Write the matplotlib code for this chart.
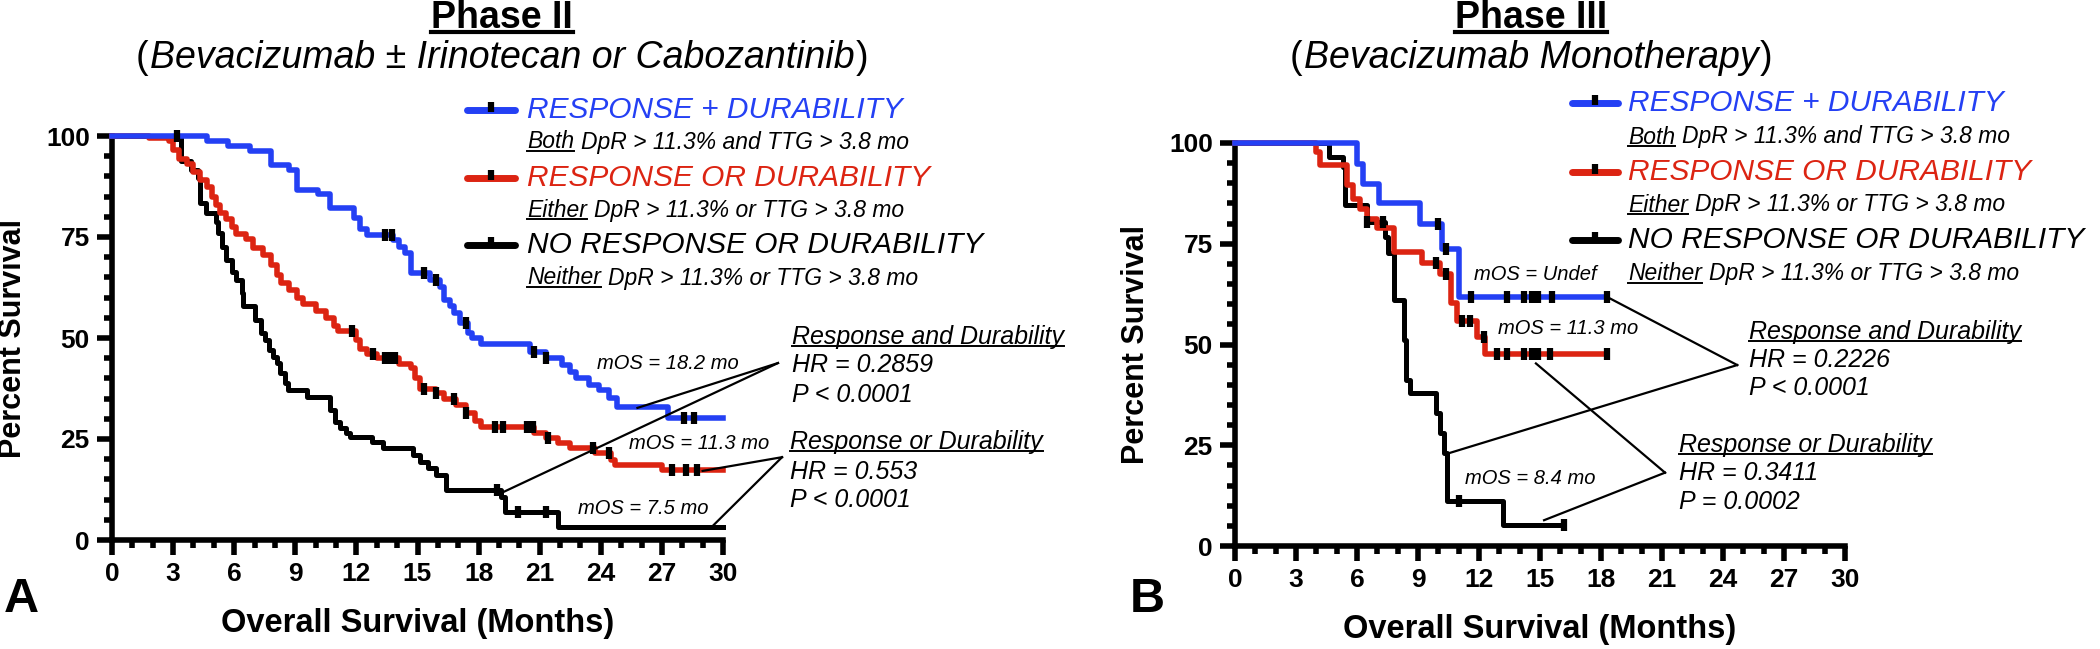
import matplotlib
matplotlib.use("Agg")
import matplotlib.pyplot as plt
from matplotlib.lines import Line2D

plt.rcParams["font.family"] = ["Liberation Sans", "DejaVu Sans"]

W, H = 2100, 649
BLUE = "#2440f4"
RED = "#dc2412"

# ---------------- Phase II (panel A) ----------------
p2_blue_t = [0, 4.65, 5.7, 6.8, 7.8, 8.7, 9.1, 10.1, 10.7, 11.9, 12.2, 12.5, 13.8, 14.1, 14.4,
             14.7, 15.6, 16.1, 16.3, 16.6, 16.8, 17.1, 17.5, 17.7, 18.1, 20.5, 21.3, 22.1, 22.5,
             22.8, 23.4, 23.9, 24.4, 24.8, 27.3]
p2_blue_s = [100, 98.8, 97.6, 96.4, 92.8, 91.6, 86.6, 85.6, 82.1, 79.6, 77.1, 75.5, 74.3, 72.6, 71.0,
             66.0, 64.4, 62.7, 59.4, 57.8, 56.1, 53.6, 51.2, 49.9, 48.5, 46.6, 45.0, 43.3, 41.7,
             40.1, 38.4, 37.1, 35.1, 33.0, 30.2]
p2_blue_end = 30
p2_blue_cens = [13.4, 13.75, 15.3, 15.9, 17.4, 20.7, 21.3, 28.1, 28.6]

p2_red_t = [0, 1.8, 2.8, 3.0, 3.3, 3.7, 4.0, 4.3, 4.65, 4.9, 5.1, 5.3, 5.6, 5.9, 6.1, 6.6, 6.9, 7.4,
            7.8, 8.1, 8.3, 8.7, 9.1, 9.4, 10.0, 10.5, 10.9, 11.1, 12.0, 12.2, 12.5, 13.0, 14.1, 14.7,
            14.9, 15.1, 15.9, 16.3, 16.9, 17.4, 17.8, 18.1, 20.7, 21.3, 21.9, 22.5, 23.7, 24.5, 24.7, 27.0]
p2_red_s = [100, 99.4, 98.7, 96.5, 94.4, 93.0, 91.0, 89.0, 87.5, 85.0, 83.0, 81.0, 79.5, 77.5, 75.7,
            74.5, 72.2, 70.5, 68.0, 65.5, 63.5, 62.0, 60.0, 58.4, 56.6, 55.0, 53.0, 51.8, 49.5, 47.3,
            46.0, 45.0, 43.5, 42.5, 40.0, 37.5, 36.5, 35.0, 33.5, 31.5, 29.5, 28.0, 26.5, 25.2, 24.0,
            22.8, 21.5, 19.8, 18.6, 17.3]
p2_red_end = 30
p2_red_cens = [11.8, 12.8, 13.4, 13.65, 13.9, 15.3, 15.9, 16.8, 17.4, 18.8, 19.2, 20.4, 20.65, 21.4,
               23.6, 24.4, 27.5, 28.2, 28.7]

p2_black_t = [0, 3.4, 3.9, 4.2, 4.3, 4.6, 5.1, 5.2, 5.4, 5.6, 5.9, 6.1, 6.4, 6.45, 7.0, 7.3, 7.5,
              7.7, 7.9, 8.1, 8.25, 8.5, 8.65, 9.55, 10.7, 10.95, 11.2, 11.5, 11.7, 12.75, 13.3,
              14.8, 15.1, 15.5, 15.9, 16.4, 19.1, 19.3, 21.9]
p2_black_s = [100, 93.8, 91.7, 89.7, 83.3, 80.9, 78.8, 75.9, 72.6, 69.3, 66.4, 64.4, 61.1, 57.8,
              54.5, 51.2, 49.5, 47.0, 45.4, 43.7, 41.3, 38.8, 37.1, 35.5, 32.2, 29.3, 27.6, 26.4,
              25.6, 24.3, 22.7, 21.0, 19.3, 17.7, 16.0, 12.4, 10.7, 7.0, 3.3]
p2_black_end = 30
p2_black_cens = [3.2, 18.9, 19.95, 21.3]

# ---------------- Phase III (panel B) ----------------
p3_blue_t = [0, 6.0, 6.3, 7.1, 9.1, 10.2, 11.0]
p3_blue_s = [100, 94.9, 89.9, 85.0, 79.8, 73.8, 61.8]
p3_blue_end = 18.3
p3_blue_cens = [10.0, 10.4, 11.6, 13.4, 14.2, 14.6, 14.9, 15.6, 18.3]

p3_red_t = [0, 4.0, 4.2, 5.5, 5.8, 6.15, 6.5, 7.0, 7.8, 9.2, 10.1, 10.6, 10.9, 11.9, 12.3]
p3_red_s = [100, 97.8, 94.5, 89.5, 86.2, 83.7, 81.2, 78.8, 73.0, 70.1, 67.6, 60.2, 55.8, 51.9, 47.6]
p3_red_end = 18.3
p3_red_cens = [9.9, 10.4, 11.15, 11.55, 12.25, 12.9, 13.4, 14.2, 14.6, 14.9, 15.5, 18.3]

p3_black_t = [0, 4.6, 5.3, 5.4, 6.5, 7.4, 7.5, 7.8, 8.3, 8.4, 8.6, 9.9, 10.1, 10.3, 10.45, 13.2]
p3_black_s = [100, 96.5, 94.0, 84.5, 80.4, 76.7, 72.6, 61.0, 51.0, 41.2, 37.9, 33.0, 28.0, 23.0, 11.1, 5.2]
p3_black_end = 16.2
p3_black_cens = [6.5, 7.3, 11.0, 16.2]

# texts
leg_labels = ["RESPONSE + DURABILITY", "RESPONSE OR DURABILITY", "NO RESPONSE OR DURABILITY"]
leg_under = ["Both", "Either", "Neither"]
leg_rest = ["DpR > 11.3% and TTG > 3.8 mo", "DpR > 11.3% or TTG > 3.8 mo", "DpR > 11.3% or TTG > 3.8 mo"]
hr_heads = ["Response and Durability", "Response or Durability"]
p2_hr = ["HR = 0.2859", "HR = 0.553"]
p2_p = ["P < 0.0001", "P < 0.0001"]
p3_hr = ["HR = 0.2226", "HR = 0.3411"]
p3_p = ["P < 0.0001", "P = 0.0002"]
p2_mos = ["mOS = 18.2 mo", "mOS = 11.3 mo", "mOS = 7.5 mo"]
p3_mos = ["mOS = Undef", "mOS = 11.3 mo", "mOS = 8.4 mo"]
xticks = list(range(0, 31, 3))
yticks = [0, 25, 50, 75, 100]


def fxy(x, y):
    # pixel position -> figure fraction
    return x / W, 1 - y / H


def step_value(ts, ss, t):
    v = ss[0]
    for ti, si in zip(ts, ss):
        if ti <= t:
            v = si
    return v


def km(ax, ts, ss, t_end, cens, color, lw):
    ax.step(list(ts) + [t_end], list(ss) + [ss[-1]], where="post", color=color, lw=lw,
            clip_on=False, zorder=3)
    cy = [step_value(ts, ss, c) for c in cens]
    ax.plot(cens, cy, ls="none", marker="|", ms=8, mew=4.5, color="black", clip_on=False, zorder=4)


def style(ax):
    ax.patch.set_visible(False)
    ax.set_xlim(0, 30)
    ax.set_ylim(0, 100)
    ax.spines[["top", "right"]].set_visible(False)
    ax.spines[["left", "bottom"]].set_linewidth(4)
    ax.set_xticks(xticks, [str(v) for v in xticks], fontweight="bold", fontsize=19)
    ax.set_yticks(yticks, [str(v) for v in yticks], fontweight="bold", fontsize=19)
    ax.set_xticks(range(0, 31), minor=True)
    ax.set_yticks(range(0, 101, 5), minor=True)
    ax.tick_params(which="major", length=11, width=4, pad=5)
    ax.tick_params(which="minor", length=6, width=4)
    ax.set_xlabel("Overall Survival (Months)", fontsize=23.5, fontweight="bold", va="center")
    ax.xaxis.set_label_coords(0.5, -0.207)
    ax.set_ylabel("Percent Survival", fontsize=22, fontweight="bold", va="center")
    ax.yaxis.set_label_coords(-0.162, 0.5)


underlines = []


def legend(fig, x_line, x_text, rows, subrows):
    colors = [BLUE, RED, "black"]
    for i in range(3):
        xa, ya = fxy(x_line[0], rows[i])
        xb, _ = fxy(x_line[1], rows[i])
        fig.add_artist(Line2D([xa, xb], [ya, ya], color=colors[i], lw=5, solid_capstyle="round"))
        fig.add_artist(Line2D([(xa + xb) / 2], [ya + 3 / H], marker="|", ms=7, mew=4.5, color="black"))
        tx, ty = fxy(x_text, rows[i])
        fig.text(tx, ty, leg_labels[i], color=colors[i], fontsize=21.5, style="italic", va="center")
        sx, sy = fxy(x_text, subrows[i])
        t1 = fig.text(sx, sy, leg_under[i], fontsize=16.5, style="italic", va="center")
        underlines.append((t1, 1.4))
        fig.axes[0].annotate(leg_rest[i], xy=(1, 0.5), xycoords=t1, xytext=(5, 0),
                             textcoords="offset points", fontsize=16.5, style="italic",
                             va="center", annotation_clip=False)


def titles(fig, xc, title, sub):
    x, y = fxy(xc, 18)
    t = fig.text(x, y, title, fontsize=27, fontweight="bold", ha="center", va="center")
    underlines.append((t, 3))
    x, y = fxy(xc, 58)
    m = fig.text(x, y, sub, fontsize=27, style="italic", ha="center", va="center")
    fig.axes[0].annotate("(", xy=(0, 0.5), xycoords=m, xytext=(-1, 0), textcoords="offset points",
                         fontsize=27, ha="right", va="center", annotation_clip=False)
    fig.axes[0].annotate(")", xy=(1, 0.5), xycoords=m, xytext=(1, 0), textcoords="offset points",
                         fontsize=27, ha="left", va="center", annotation_clip=False)


def hr_block(ax, x, ys, head, hr, p):
    t = ax.text(x, ys[0], head, fontsize=18, style="italic", va="center", clip_on=False)
    underlines.append((t, 1.4))
    ax.text(x, ys[1], hr, fontsize=18, style="italic", va="center", clip_on=False)
    ax.text(x, ys[2], p, fontsize=18, style="italic", va="center", clip_on=False)


def connector(ax, vertex, ends):
    for e in ends:
        ax.plot([vertex[0], e[0]], [vertex[1], e[1]], color="black", lw=1.6, clip_on=False, zorder=5)


fig = plt.figure(figsize=(W / 100, H / 100), dpi=100)
ax1 = fig.add_axes([112 / W, 1 - 540 / H, 611 / W, 404 / H])
ax2 = fig.add_axes([1235 / W, 1 - 546 / H, 610 / W, 403 / H])

# panel A
style(ax1)
km(ax1, p2_black_t, p2_black_s, p2_black_end, p2_black_cens, "black", 3.6)
km(ax1, p2_red_t, p2_red_s, p2_red_end, p2_red_cens, RED, 4)
km(ax1, p2_blue_t, p2_blue_s, p2_blue_end, p2_blue_cens, BLUE, 4)
for txt, (x, y) in zip(p2_mos, [(23.8, 43.8), (25.4, 24.0), (22.9, 7.9)]):
    ax1.text(x, y, txt, fontsize=14.5, style="italic", va="center", clip_on=False)
hr_block(ax1, 33.4, [50.3, 43.3, 35.9], hr_heads[0], p2_hr[0], p2_p[0])
hr_block(ax1, 33.3, [24.3, 16.9, 9.9], hr_heads[1], p2_hr[1], p2_p[1])
connector(ax1, (32.7, 43.8), [(25.8, 32.7), (19.1, 11.6)])
connector(ax1, (32.9, 20.5), [(29.0, 17.1), (29.5, 3.5)])

# panel B
style(ax2)
km(ax2, p3_black_t, p3_black_s, p3_black_end, p3_black_cens, "black", 3.6)
km(ax2, p3_red_t, p3_red_s, p3_red_end, p3_red_cens, RED, 4)
km(ax2, p3_blue_t, p3_blue_s, p3_blue_end, p3_blue_cens, BLUE, 4)
for txt, (x, y) in zip(p3_mos, [(11.75, 67.4), (12.95, 54.0), (11.3, 16.8)]):
    ax2.text(x, y, txt, fontsize=14.5, style="italic", va="center", clip_on=False)
hr_block(ax2, 25.3, [53.1, 46.1, 39.1], hr_heads[0], p3_hr[0], p3_p[0])
hr_block(ax2, 21.85, [25.0, 18.0, 11.0], hr_heads[1], p3_hr[1], p3_p[1])
connector(ax2, (24.7, 44.9), [(18.3, 61.8), (10.5, 23.0)])
connector(ax2, (21.15, 18.2), [(14.8, 45.3), (15.2, 6.4)])

legend(fig, (467, 515), 527, [110, 178, 245], [142, 210, 278])
legend(fig, (1572, 1618), 1628, [103, 172, 240], [137, 205, 274])
titles(fig, 502, "Phase II", "Bevacizumab \u00b1 Irinotecan or Cabozantinib")
titles(fig, 1531, "Phase III", "Bevacizumab Monotherapy")

x, y = fxy(21, 600)
fig.text(x, y, "A", fontsize=35, fontweight="bold", ha="center", va="center")
x, y = fxy(1147, 600)
fig.text(x, y, "B", fontsize=35, fontweight="bold", ha="center", va="center")

# underline the texts that need it
fig.canvas.draw()
r = fig.canvas.get_renderer()
for t, lw in underlines:
    bb = t.get_window_extent(renderer=r)
    fs = t.get_fontsize() * 100 / 72
    yu = bb.y0 + 0.12 * fs
    fig.add_artist(Line2D([bb.x0 / W, bb.x1 / W], [yu / H, yu / H], color="black", lw=lw))

fig.savefig("out.png", dpi=100)
